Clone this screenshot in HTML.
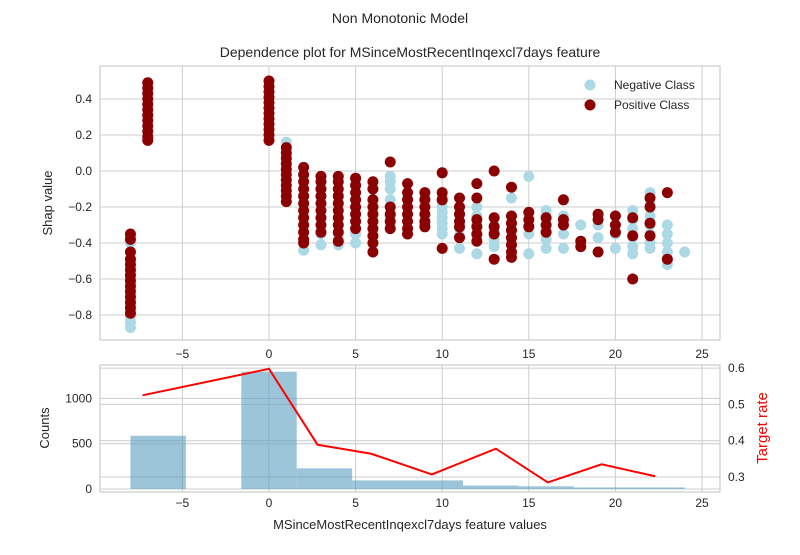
<!DOCTYPE html>
<html><head><meta charset="utf-8"><style>
body{margin:0;background:#fff;}
svg text{font-family:"Liberation Sans",sans-serif;fill:#262626;}
</style></head><body>
<svg id="c" width="800" height="550" xmlns="http://www.w3.org/2000/svg"></svg>
<script>
// Scatter data: [x, [shap values]]
const negCols = [
 [-8,[-0.87,-0.84,-0.81,-0.78,-0.75,-0.72,-0.69,-0.66,-0.63,-0.6,-0.57,-0.54,-0.5,-0.45,-0.4,-0.36]],
 [1,[0.16,0.12,0.08,0.04,0.0,-0.05]],
 [2,[-0.44,-0.4,-0.3]],[3,[-0.41,-0.35]],[4,[-0.41,-0.36]],[5,[-0.4,-0.35,-0.05]],[6,[-0.4,-0.1]],
 [7,[-0.03,-0.06,-0.1,-0.16,-0.2,-0.25,-0.3,-0.32]],[8,[-0.35,-0.15]],[9,[-0.3,-0.15]],
 [10,[-0.14,-0.17,-0.2,-0.23,-0.26,-0.29,-0.32,-0.35]],
 [11,[-0.2,-0.24,-0.28,-0.32,-0.36,-0.43]],[12,[-0.2,-0.25,-0.3,-0.36,-0.46]],
 [13,[-0.3,-0.34,-0.38,-0.42]],[14,[-0.15,-0.32,-0.38]],[15,[-0.03,-0.3,-0.35,-0.46]],
 [16,[-0.22,-0.26,-0.3,-0.34,-0.38,-0.43]],[17,[-0.25,-0.3,-0.35,-0.43]],[18,[-0.3]],
 [19,[-0.3,-0.37]],[20,[-0.35,-0.43]],[21,[-0.22,-0.27,-0.32,-0.37,-0.42,-0.46]],
 [22,[-0.12,-0.18,-0.25,-0.3,-0.35,-0.4,-0.43]],[23,[-0.3,-0.35,-0.4,-0.45,-0.52]],[24,[-0.45]]
];
const posCols = [
 [-8,[-0.35,-0.38,-0.45,-0.49,-0.52,-0.55,-0.58,-0.61,-0.64,-0.67,-0.7,-0.73,-0.76,-0.79]],
 [-7,[0.49,0.46,0.43,0.4,0.37,0.34,0.31,0.28,0.25,0.22,0.19,0.17]],
 [0,[0.5,0.47,0.44,0.41,0.38,0.35,0.32,0.29,0.26,0.23,0.2,0.17]],
 [1,[0.13,0.1,0.07,0.04,0.01,-0.02,-0.05,-0.08,-0.11,-0.14,-0.17]],
 [2,[0.02,-0.02,-0.06,-0.1,-0.14,-0.18,-0.22,-0.26,-0.3,-0.34,-0.38,-0.4]],
 [3,[-0.03,-0.06,-0.1,-0.14,-0.18,-0.22,-0.26,-0.3,-0.34]],
 [4,[-0.03,-0.06,-0.1,-0.14,-0.18,-0.22,-0.26,-0.3,-0.34,-0.39]],
 [5,[-0.04,-0.08,-0.12,-0.16,-0.2,-0.24,-0.28,-0.32]],
 [6,[-0.06,-0.1,-0.16,-0.2,-0.24,-0.28,-0.32,-0.36,-0.4,-0.45]],
 [7,[0.05,-0.2,-0.24,-0.28,-0.32]],
 [8,[-0.07,-0.12,-0.16,-0.2,-0.24,-0.28,-0.32,-0.35]],
 [9,[-0.12,-0.16,-0.2,-0.24,-0.28,-0.31]],
 [10,[-0.01,-0.12,-0.16,-0.43]],[11,[-0.15,-0.2,-0.24,-0.28,-0.31,-0.37]],
 [12,[-0.07,-0.15,-0.27,-0.31,-0.35,-0.39]],[13,[0.0,-0.26,-0.31,-0.35,-0.49]],
 [14,[-0.09,-0.25,-0.29,-0.33,-0.37,-0.41,-0.45,-0.48]],[15,[-0.23,-0.27,-0.31]],
 [16,[-0.26,-0.3,-0.34]],[17,[-0.16,-0.27,-0.3]],[18,[-0.39,-0.42]],
 [19,[-0.24,-0.27,-0.45]],[20,[-0.25,-0.3,-0.34]],[21,[-0.26,-0.36,-0.6]],
 [22,[-0.15,-0.2,-0.29,-0.36]],[23,[-0.12,-0.49]]
];
// Histogram
const binEdges = [-8,-4.8,-1.6,1.6,4.8,8,11.2,14.4,17.6,20.8,24];
const counts = [588,0,1295,228,95,95,38,30,17,17];
// Target rate line
const rateX = [-7.3,0,2.8,5.9,9.4,13.1,16.1,19.2,22.3];
const rateY = [0.525,0.598,0.389,0.364,0.307,0.378,0.285,0.335,0.302];
const xTicks = [-5,0,5,10,15,20,25];
const yTicks = [0.4,0.2,0.0,-0.2,-0.4,-0.6,-0.8];
const cTicks = [0,500,1000];
const rTicks = [0.3,0.4,0.5,0.6];

const NS="http://www.w3.org/2000/svg", svg=document.getElementById('c');
function mk(t,a,p){const e=document.createElementNS(NS,t);for(const k in a)e.setAttribute(k,a[k]);(p||svg).appendChild(e);return e;}
const L=100,R=720,T1=66,B1=340,T2=365,B2=492;
const sx=v=>269+(v)*17.32;
const sy=v=>171-v*180;
const sc=v=>489-v*0.0906;
const sr=v=>477-(v-0.3)*363;

const g1=mk('g',{});
mk('rect',{x:L,y:T1,width:R-L,height:B1-T1,fill:'#fff',stroke:'#ccc','stroke-width':1.2},g1);
xTicks.forEach(t=>{mk('line',{x1:sx(t),x2:sx(t),y1:T1,y2:B1,stroke:'#ccc'},g1);
 const tx=mk('text',{x:sx(t),y:B1+18,'text-anchor':'middle','font-size':12},g1);tx.textContent=t<0?'\u2212'+(-t):t;
 });
yTicks.forEach(t=>{mk('line',{x1:L,x2:R,y1:sy(t),y2:sy(t),stroke:'#ccc'},g1);
 const tx=mk('text',{x:L-8,y:sy(t)+4,'text-anchor':'end','font-size':12},g1);tx.textContent=(t<0?'\u2212':'')+Math.abs(t).toFixed(1);
 });
negCols.forEach(([x,ys])=>ys.forEach(y=>{const c=mk('circle',{cx:sx(x),cy:sy(y),r:5.5,fill:'#add8e6'},g1);
 }));
posCols.forEach(([x,ys])=>ys.forEach(y=>{const c=mk('circle',{cx:sx(x),cy:sy(y),r:5.5,fill:'#8b0000'},g1);
 }));
const lg=mk('g',{});
mk('circle',{cx:590,cy:85,r:5.5,fill:'#add8e6'},lg);mk('circle',{cx:590,cy:105,r:5.5,fill:'#8b0000'},lg);
let t=mk('text',{x:614,y:89,'font-size':12},lg);t.textContent='Negative Class';
t=mk('text',{x:614,y:109,'font-size':12},lg);t.textContent='Positive Class';

const g2=mk('g',{});
mk('rect',{x:L,y:T2,width:R-L,height:B2-T2,fill:'#fff',stroke:'#ccc','stroke-width':1.2},g2);
xTicks.forEach(t=>{mk('line',{x1:sx(t),x2:sx(t),y1:T2,y2:B2,stroke:'#ccc'},g2);
 const tx=mk('text',{x:sx(t),y:B2+15,'text-anchor':'middle','font-size':12},g2);tx.textContent=t<0?'\u2212'+(-t):t;
 });
cTicks.forEach(t=>{mk('line',{x1:L,x2:R,y1:sc(t),y2:sc(t),stroke:'#ccc'},g2);
 const tx=mk('text',{x:L-8,y:sc(t)+4,'text-anchor':'end','font-size':12},g2);tx.textContent=t;
 });
rTicks.forEach(t=>{mk('line',{x1:L,x2:R,y1:sr(t),y2:sr(t),stroke:'#ccc'},g2);
 const tx=mk('text',{x:R+8,y:sr(t)+4,'font-size':12},g2);tx.textContent=t.toFixed(1);
 });
counts.forEach((c,i)=>{if(!c)return;const x0=sx(binEdges[i]),x1=sx(binEdges[i+1]);
 const b=mk('rect',{x:x0,y:sc(c),width:x1-x0,height:sc(0)-sc(c),fill:'#5a9ec2','fill-opacity':0.6},g2);
 });
const ln=mk('polyline',{points:rateX.map((x,i)=>sx(x)+','+sr(rateY[i])).join(' '),fill:'none',stroke:'#ff0000','stroke-width':2},g2);


function lab(x,y,s,txt,name,extra){const e=mk('text',Object.assign({x:x,y:y,'font-size':s,'text-anchor':'middle'},extra||{}));e.textContent=txt;
 return e;}
lab(400,23,14,'Non Monotonic Model','figure-title');
lab(410,57,14,'Dependence plot for MSinceMostRecentInqexcl7days feature','plot-title');
lab(52,203,13,'Shap value','y-axis-title',{transform:'rotate(-90 52 203)'});
lab(49,428,13,'Counts','counts-axis-title',{transform:'rotate(-90 49 428)'});
const tr=lab(767,428,15,'Target rate','rate-axis-title',{transform:'rotate(-90 767 428)'});tr.style.fill='#ff0000';
lab(410,529,13,'MSinceMostRecentInqexcl7days feature values','x-axis-title');
</script>
</body></html>
